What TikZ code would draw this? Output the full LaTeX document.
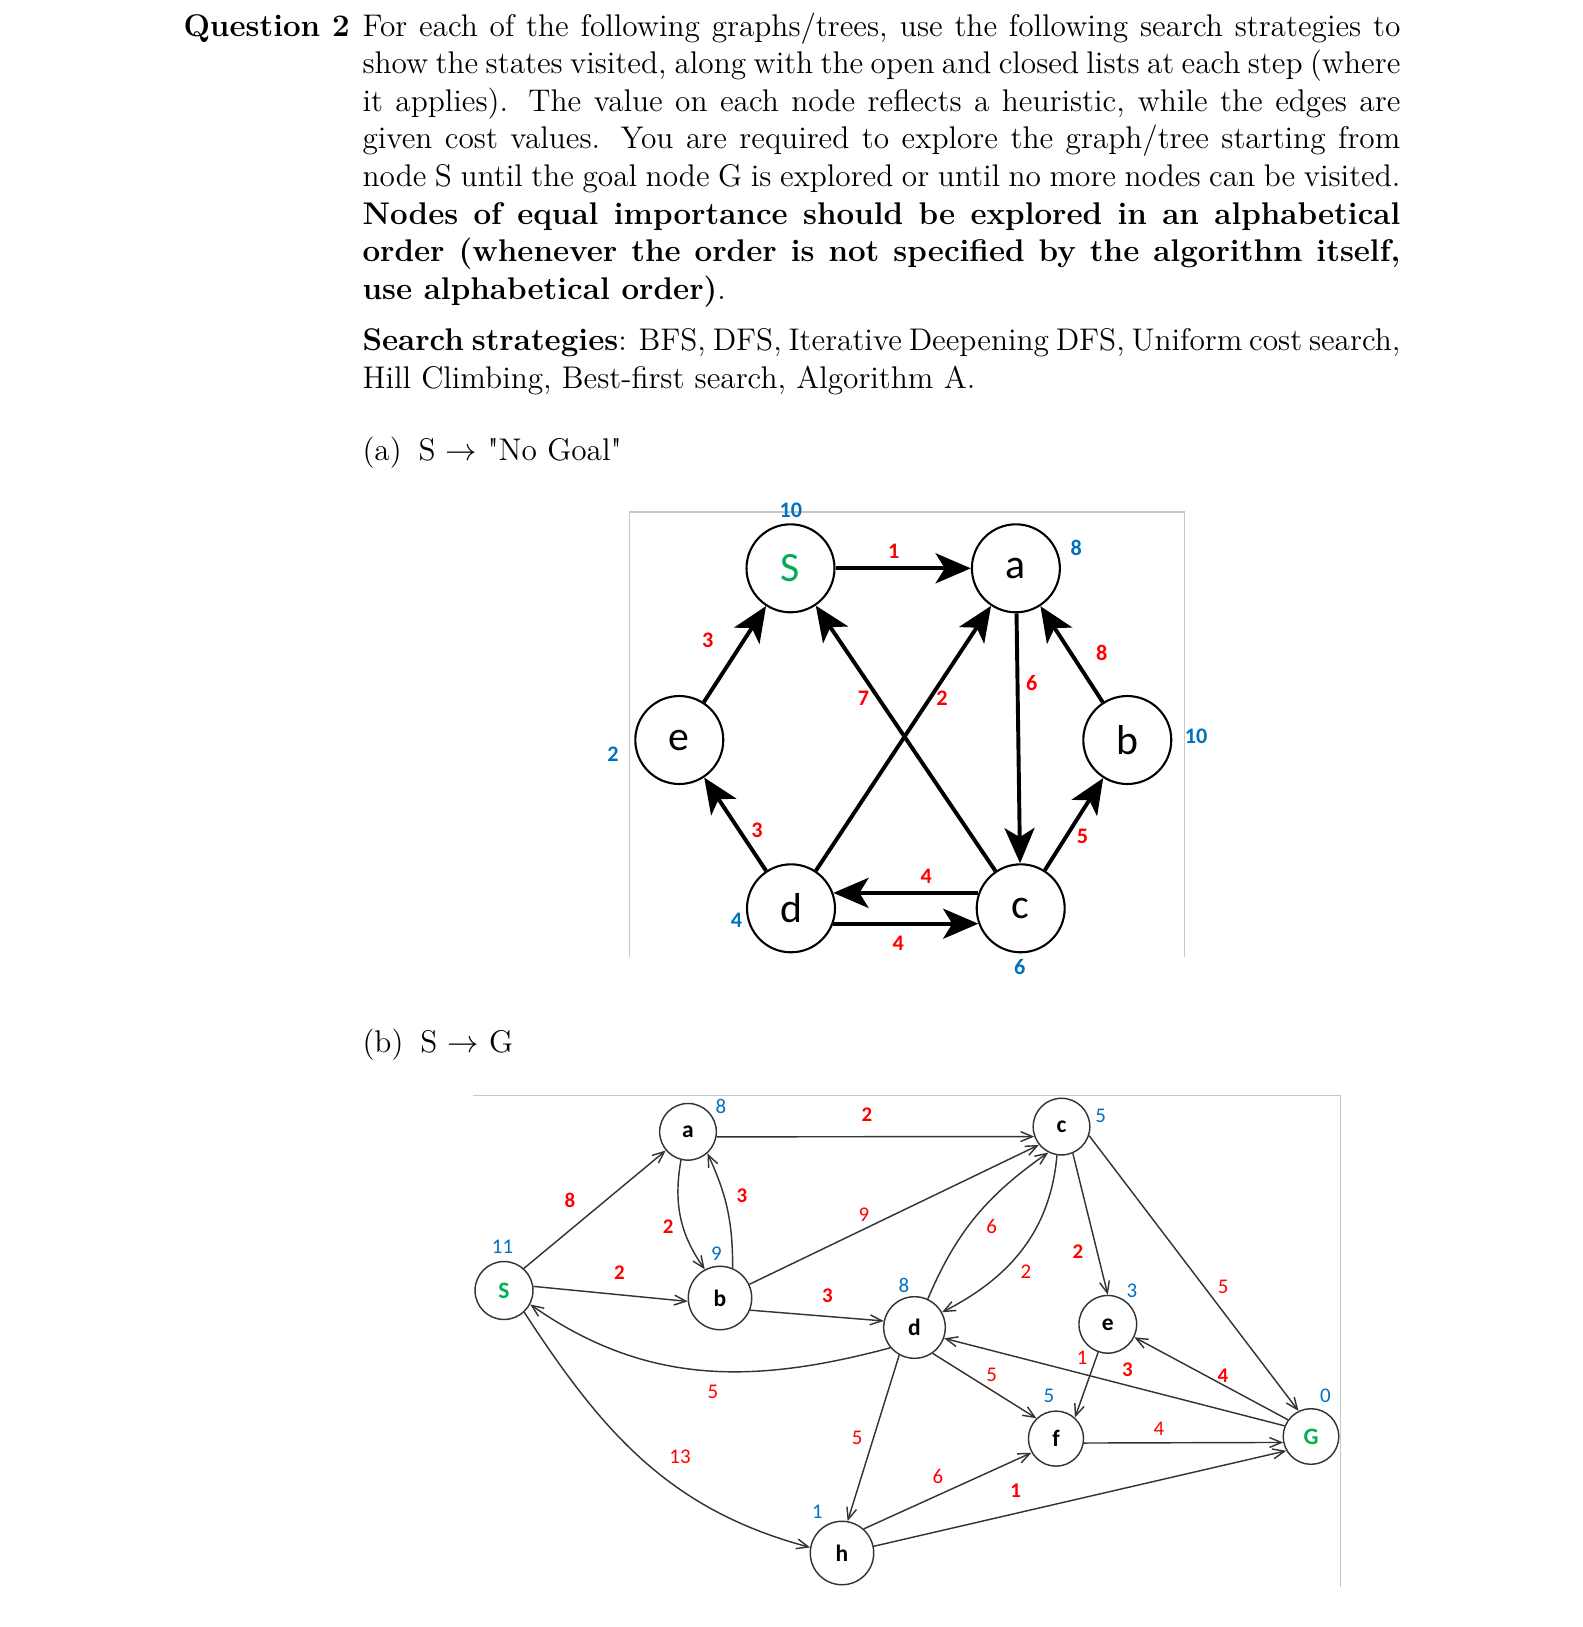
\documentclass[tikz,border=0pt]{standalone}
\usepackage{fontspec}
\usetikzlibrary{arrows.meta}
\newfontfamily\carlito{Carlito}
\definecolor{wred}{RGB}{255,0,0}
\definecolor{hblue}{RGB}{0,112,192}
\definecolor{sgreen}{RGB}{0,176,80}
\newlength{\lw}
\setlength{\lw}{397.5pt}
\begin{document}
\begin{tikzpicture}[x=0.383pt,y=-0.383pt,
  txt/.style={anchor=base west, inner sep=0pt, font=\fontsize{12}{14.5}\selectfont},
  frame/.style={draw=black!22, line width=0.5pt},
  anode/.style={circle, draw, line width=0.8pt, minimum size=33.7pt, inner sep=0pt, font=\carlito\fontsize{16}{16}\selectfont},
  aedge/.style={line width=1.5pt, -{Stealth[length=13.5pt,width=11.5pt,inset=3.5pt]}},
  awt/.style={text=wred, inner sep=0pt, font=\carlito\bfseries\fontsize{8.5}{9}\selectfont},
  ahv/.style={text=hblue, inner sep=0pt, font=\carlito\bfseries\fontsize{8.5}{9}\selectfont},
  bnode/.style={circle, draw=black!80, line width=0.55pt, inner sep=0pt, font=\carlito\bfseries\fontsize{9}{9}\selectfont},
  bedge/.style={draw=black!80, line width=0.55pt, -{Straight Barb[length=4.5pt,width=3.8pt]}},
  bwt/.style={text=wred, inner sep=0pt, font=\carlito\fontsize{8}{8}\selectfont},
  bwtb/.style={text=wred, inner sep=0pt, font=\carlito\bfseries\fontsize{8}{8}\selectfont},
  bhv/.style={text=hblue, inner sep=0pt, font=\carlito\fontsize{8}{8}\selectfont}]
\useasboundingbox (0,0) rectangle (1583,1627);

% ---------- text ----------
\node[txt, font=\fontsize{12}{14.5}\selectfont\bfseries] (q) at (183,36) {Question 2};
\node[txt] (l1) at (362,36) {\makebox[\lw][s]{For each of the following graphs/trees, use the following search strategies to}};
\node[txt] (l2) at (362,73.6) {\makebox[\lw][s]{show the states visited, along with the open and closed lists at each step (where}};
\node[txt] (l3) at (362,111.3) {\makebox[\lw][s]{it applies).  The value on each node reflects a heuristic, while the edges are}};
\node[txt] (l4) at (362,148.9) {\makebox[\lw][s]{given cost values.  You are required to explore the graph/tree starting from}};
\node[txt] (l5) at (362,186.6) {\makebox[\lw][s]{node S until the goal node G is explored or until no more nodes can be visited.}};
\node[txt] (l6) at (362,224.2) {\makebox[\lw][s]{\bfseries Nodes of equal importance should be explored in an alphabetical}};
\node[txt] (l7) at (362,261.8) {\makebox[\lw][s]{\bfseries order (whenever the order is not specified by the algorithm itself,}};
\node[txt] (l8) at (362,299.5) {\textbf{use alphabetical order)}.};
\node[txt] (s1) at (362,350.5) {\makebox[\lw][s]{\textbf{Search strategies}: BFS, DFS, Iterative Deepening DFS, Uniform cost search,}};
\node[txt] (s2) at (362,388.5) {Hill Climbing, Best-first search, Algorithm A.};
\node[txt] (pa) at (362,460) {(a)\hspace{6.5pt}S $\rightarrow$ \textquotedbl No Goal\textquotedbl};
\node[txt] (pb) at (362,1052) {(b)\hspace{6.5pt}S $\rightarrow$ G};

% ---------- graph (a) ----------
\draw[frame] (629.5,957) -- (629.5,512) -- (1184.5,512) -- (1184.5,957);
\node[anode, text=sgreen] (aS) at (790.5,568.3) {S};
\node[anode] (aa) at (1015.9,568.3) {a};
\node[anode] (ae) at (679.3,740) {e};
\node[anode] (ab) at (1127.3,740) {b};
\node[anode] (ad) at (791,908.3) {d};
\node[anode] (ac) at (1020.7,908.3) {c};

\draw[aedge] (aS) -- (aa);
\draw[aedge] (ae) -- (aS);
\draw[aedge] (ab) -- (aa);
\draw[aedge] (aa) -- (ac);
\draw[aedge] (ad) -- (aa);
\draw[aedge] (ac) -- (aS);
\draw[aedge] (ad) -- (ae);
\draw[aedge] (ac) -- (ab);
\draw[aedge] (ac.160) -- (ad.20);
\draw[aedge] (ad.-20) -- (ac.200);

\node[awt] (aw1) at (893.8,551) {1};
\node[awt] (aw2) at (707.7,640) {3};
\node[awt] (aw3) at (1101.7,653.3) {8};
\node[awt] (aw4) at (1031.8,683.3) {6};
\node[awt] (aw5) at (863.4,698.3) {7};
\node[awt] (aw6) at (941.9,698.3) {2};
\node[awt] (aw7) at (756.9,830.7) {3};
\node[awt] (aw8) at (1082.4,836.7) {5};
\node[awt] (aw9) at (926.3,876.7) {4};
\node[awt] (aw10) at (898.2,943.3) {4};

\node[ahv] (ahS) at (790.9,510.7) {10};
\node[ahv] (aha) at (1076.2,548.3) {8};
\node[ahv] (ahe) at (613.1,754.2) {2};
\node[ahv] (ahb) at (1196,736.5) {10};
\node[ahv] (ahd) at (736.5,920) {4};
\node[ahv] (ahc) at (1019.8,967) {6};

% ---------- graph (b) ----------
\draw[frame] (473,1095.7) -- (1340.5,1095.7) -- (1340.5,1587);
\node[bnode, minimum size=22.2pt, text=sgreen] (bS) at (504,1290.5) {S};
\node[bnode, minimum size=21.7pt] (ba) at (688,1131.8) {a};
\node[bnode, minimum size=24.3pt] (bb) at (720,1298) {b};
\node[bnode, minimum size=21.7pt] (bc) at (1061.5,1126.6) {c};
\node[bnode, minimum size=23.6pt] (bd) at (914.5,1327.5) {d};
\node[bnode, minimum size=22.1pt] (be) at (1107.8,1324.3) {e};
\node[bnode, minimum size=21.1pt] (bf) at (1056,1438.6) {f};
\node[bnode, minimum size=21.3pt, text=sgreen] (bG) at (1311,1436.5) {G};
\node[bnode, minimum size=24.3pt] (bh) at (842,1553) {h};

\draw[bedge] (bS.48) -- (ba.-140);
\draw[bedge] (bS.8) -- (bb.-174);
\draw[bedge] (ba.-104) to[out=-100,in=125] (bb.118);
\draw[bedge] (bb.67) to[out=90,in=-65] (ba.-48);
\draw[bedge] (ba.-10) -- (bc.-160);
\draw[bedge] (bb.25) -- (bc.-141);
\draw[bedge] (bb.-22) -- (bd.168);
\draw[bedge] (bd.-140) to[out=-165,in=-35] (bS.-28);
\draw[bedge] (bS.-47) to[out=-57,in=165] (bh.170);
\draw[bedge] (bd.65) to[out=67,in=-145] (bc.-117);
\draw[bedge] (bc.-99) to[out=-95,in=27] (bd.29);
\draw[bedge] (bc.-67) -- (be.90);
\draw[bedge] (bc.-18) -- (bG.116);
\draw[bedge] (bG.158) -- (bd.-20);
\draw[bedge] (bG.144) -- (be.-26);
\draw[bedge] (be.-109) -- (bf.48);
\draw[bedge] (bd.-55) -- (bf.134);
\draw[bedge] (bf.-9) -- (bG.-168);
\draw[bedge] (bd.-119) -- (bh.80);
\draw[bedge] (bh.48) -- (bf.-150);
\draw[bedge] (bh.12) -- (bG.-150);

\node[bwtb] (bw1) at (570,1200) {8};
\node[bwtb] (bw2) at (619.3,1272.3) {2};
\node[bwtb] (bw3) at (668.2,1226.5) {2};
\node[bwtb] (bw4) at (742,1195.5) {3};
\node[bwtb] (bw5) at (867,1115) {2};
\node[bwt] (bw6) at (864,1214.5) {9};
\node[bwtb] (bw7) at (827.3,1295.5) {3};
\node[bwt] (bw8) at (713,1391.5) {5};
\node[bwt] (bw9) at (680,1457) {13};
\node[bwt] (bw10) at (991.7,1226.5) {6};
\node[bwt] (bw11) at (1026,1272) {2};
\node[bwtb] (bw12) at (1078,1251.5) {2};
\node[bwt] (bw13) at (1223.2,1287) {5};
\node[bwtb] (bw14) at (1127.5,1369.3) {3};
\node[bwtb] (bw15) at (1223,1375.3) {4};
\node[bwt] (bw16) at (1082.2,1358.2) {1};
\node[bwt] (bw17) at (991.7,1375.3) {5};
\node[bwt] (bw18) at (1159,1429) {4};
\node[bwt] (bw19) at (857.1,1437.5) {5};
\node[bwt] (bw20) at (938,1477) {6};
\node[bwtb] (bw21) at (1015.6,1490.3) {1};

\node[bhv] (bha) at (721,1106.8) {8};
\node[bhv] (bhS) at (502.5,1246.3) {11};
\node[bhv] (bhb) at (716.3,1253.3) {9};
\node[bhv] (bhc) at (1100.7,1115.5) {5};
\node[bhv] (bhd) at (903.8,1285.5) {8};
\node[bhv] (bhe) at (1131.8,1290.8) {3};
\node[bhv] (bhf) at (1049,1395.7) {5};
\node[bhv] (bhG) at (1325.3,1395.7) {0};
\node[bhv] (bhh) at (817.5,1512) {1};
\end{tikzpicture}
\end{document}
